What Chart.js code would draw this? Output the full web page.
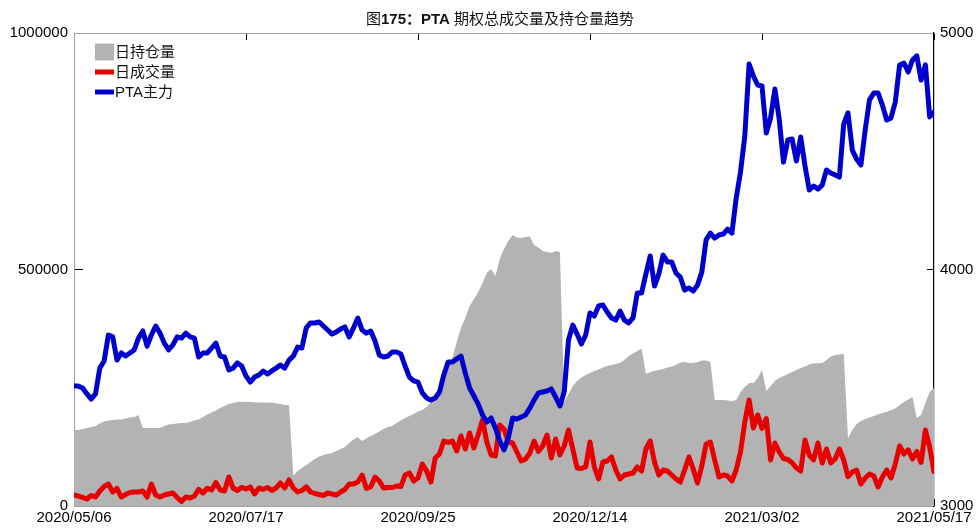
<!DOCTYPE html>
<html><head><meta charset="utf-8">
<script src="https://cdn.jsdelivr.net/npm/chart.js@4.4.0/dist/chart.umd.min.js"></script>
<style>html,body{margin:0;padding:0;background:#fff;}canvas{display:block;}</style>
</head><body>
<canvas id="c" width="976" height="528"></canvas>
<script>
const titleParts = [["图", false], ["175：PTA", true], [" 期权总成交量及持仓量趋势", false]];
const seriesNames = ["日持仓量", "日成交量", "PTA主力"];
const tickLabels = ["2020/05/06", "2020/07/17", "2020/09/25", "2020/12/14", "2021/03/02", "2021/05/17"];

const openInterest = [160700,160700,162800,164900,167000,169100,174400,178700,180800,181800,
182900,182900,185000,187100,188200,192400,164900,164900,164900,164900,
164900,169100,172300,173400,174400,175500,175500,177600,180800,182900,
188200,193400,197700,201900,207200,211400,215700,217800,219900,220500,
220300,219900,219300,219000,218800,218600,218400,217100,215700,213500,
213500,63400,74000,80300,86700,93000,99400,104700,107800,109900,
112100,116300,120500,124700,133200,140600,145900,137400,142700,148000,
152200,157500,162800,167000,169100,175500,180800,186100,190300,194500,
199800,203000,209300,219900,232600,251600,270600,289700,312900,346700,
376300,397500,422800,437600,452400,471500,492600,501100,486300,522200,
543400,560300,573000,567700,566600,568700,569800,551800,546500,539100,
537000,534900,539100,537000,219900,236800,253700,264300,271700,277000,
281200,285400,288600,292800,296000,298100,300200,303000,308700,317100,
322400,327700,333000,279100,283300,285400,287500,289700,292800,294900,
298100,303400,304400,302300,302300,304400,307600,307600,304400,224100,
224100,224100,223100,222000,224100,241000,251600,260100,260100,270600,
287500,243100,253700,264300,270600,274900,279100,283300,287500,291800,
294900,299200,301700,301700,302300,308700,316100,319200,320300,321400,
143800,160700,173400,179700,183900,187100,190300,193500,196600,198700,
203000,206100,213500,219900,225200,230500,186100,192400,217800,241000,
249500];

const volume = [23300,21100,18000,14800,22200,19000,31700,41200,46500,29600,
37000,19000,24300,28500,29600,29600,31700,19000,46500,23300,
19000,23300,25400,27500,18000,9500,19000,16900,21100,34900,
27500,37400,33800,49700,33800,31700,61300,38100,32800,39500,
35900,40200,25400,38100,35300,39100,32800,38100,48600,38100,
55000,38100,29600,32800,40200,29600,26400,24300,22200,27500,
25400,23300,29600,34900,46500,46500,50700,65500,37000,40200,
61300,52900,38100,39100,39100,42300,41200,65500,69800,52900,
59200,88800,74000,50700,101500,109900,137400,134300,137400,116300,
148000,120500,154300,122600,151200,181800,135300,107800,105700,171300,
162800,135300,133200,114200,95100,99400,112100,137400,115200,126900,
150100,101500,141700,107800,126900,160700,120500,80300,79300,82500,
135300,82500,57100,93000,95100,103600,76100,57100,65500,67700,
69800,82500,74000,120500,137400,93000,65500,76100,74000,65500,
57100,50700,76100,103600,78200,48600,84600,131100,135300,97300,
61300,65500,63400,52900,76100,114200,177600,224100,164900,192400,
163900,185000,97300,133200,114200,100400,98300,91500,80300,74000,
139500,107800,97300,133200,90900,120500,90900,99400,120500,97300,
62000,71900,76100,46500,59200,67700,63400,40200,61300,76100,
59200,88800,126900,109900,118400,99400,115200,92000,160700,124700,
72500];

const ptaPrice = [3507,3507,3499,3474,3452,3474,3583,3613,3723,3715,
3617,3647,3634,3647,3660,3710,3740,3676,3723,3761,
3731,3689,3660,3681,3715,3710,3731,3715,3710,3630,
3647,3647,3668,3689,3634,3630,3575,3583,3605,3592,
3550,3524,3545,3554,3571,3558,3571,3583,3596,3583,
3617,3634,3672,3668,3753,3774,3774,3778,3761,3744,
3727,3736,3748,3757,3715,3753,3795,3744,3731,3740,
3698,3638,3630,3634,3651,3651,3643,3592,3545,3529,
3524,3478,3457,3448,3457,3482,3554,3609,3609,3622,
3634,3562,3499,3465,3431,3385,3355,3372,3330,3275,
3237,3288,3372,3368,3376,3385,3414,3448,3478,3482,
3486,3495,3461,3423,3482,3702,3765,3727,3685,3723,
3816,3803,3846,3850,3820,3795,3786,3824,3786,3774,
3795,3901,3901,3981,4057,3930,3981,4061,4032,4032,
3985,3968,3913,3922,3909,3934,3989,4125,4154,4133,
4146,4150,4171,4154,4302,4412,4564,4869,4818,4780,
4776,4577,4641,4763,4636,4454,4548,4552,4459,4560,
4438,4336,4353,4340,4357,4421,4408,4400,4391,4615,
4662,4505,4467,4442,4590,4717,4746,4746,4695,4632,
4641,4708,4865,4873,4835,4886,4903,4801,4865,4645,
4666];

const pointIndex = openInterest.map((_, i) => i);
const lastIndex = pointIndex.length - 1;
const tickStep = lastIndex / (tickLabels.length - 1);

const latinCjk = '"Liberation Sans", Arial, "Noto Sans CJK SC", sans-serif';
const axisFont = { size: 15, family: latinCjk };
const plainNumber = v => String(v);

const titleLegendPlugin = {
  id: 'titleLegend',
  afterDraw(chart) {
    const ctx = chart.ctx, ca = chart.chartArea;
    ctx.save();
    const fontOf = b => (b ? 'bold ' : '') + '15px ' + latinCjk;
    let total = 0;
    const widths = titleParts.map(([t, b]) => { ctx.font = fontOf(b); const w = ctx.measureText(t).width; total += w; return w; });
    let x = (ca.left + ca.right) / 2 - total / 2 - 4;
    ctx.textBaseline = 'middle';
    ctx.textAlign = 'left';
    ctx.fillStyle = '#111';
    titleParts.forEach(([t, b], i) => { ctx.font = fontOf(b); ctx.fillText(t, x, 20); x += widths[i]; });
    const x0 = ca.left + 21;
    let y = ca.top + 19;
    ctx.font = '15px ' + latinCjk;
    chart.data.datasets.forEach(ds => {
      if (ds.fill) {
        ctx.fillStyle = ds.backgroundColor;
        ctx.fillRect(x0, y - 8.5, 19, 17);
      } else {
        ctx.strokeStyle = ds.borderColor;
        ctx.lineWidth = ds.borderWidth;
        ctx.lineCap = 'butt';
        ctx.beginPath(); ctx.moveTo(x0, y); ctx.lineTo(x0 + 19, y); ctx.stroke();
      }
      ctx.fillStyle = '#111';
      ctx.fillText(ds.label, x0 + 20, y + 1);
      y += 20;
    });
    ctx.restore();
  }
};

const noPad = s => { s.paddingLeft = 0; s.paddingRight = 0; s.paddingTop = 0; s.paddingBottom = 0; };

new Chart(document.getElementById('c'), {
  type: 'line',
  data: {
    labels: pointIndex,
    datasets: [
      { label: seriesNames[0], data: openInterest, xAxisID: 'x', yAxisID: 'y', fill: 'origin',
        backgroundColor: '#b3b3b3', borderColor: '#b3b3b3', borderWidth: 0, pointRadius: 0, tension: 0, order: 3 },
      { label: seriesNames[1], data: volume, xAxisID: 'x', yAxisID: 'y', fill: false,
        backgroundColor: '#e60000', borderColor: '#e60000', borderWidth: 5, pointRadius: 0, tension: 0,
        borderJoinStyle: 'round', borderCapStyle: 'round', order: 2 },
      { label: seriesNames[2], data: ptaPrice, xAxisID: 'x', yAxisID: 'y1', fill: false,
        backgroundColor: '#0000cc', borderColor: '#0000cc', borderWidth: 5, pointRadius: 0, tension: 0,
        borderJoinStyle: 'round', borderCapStyle: 'round', order: 1 }
    ]
  },
  options: {
    responsive: false,
    animation: false,
    devicePixelRatio: 1,
    layout: { padding: 0 },
    plugins: { legend: { display: false }, tooltip: { enabled: false }, title: { display: false } },
    scales: {
      x: {
        type: 'linear', position: 'bottom', min: 0, max: lastIndex,
        ticks: { stepSize: tickStep, autoSkip: false, maxRotation: 0, padding: 10, color: '#000', font: axisFont,
          callback: v => tickLabels[Math.round(v / tickStep)] ?? '' },
        grid: { drawOnChartArea: false, drawTicks: true, tickLength: -7, color: '#000' },
        border: { color: '#a0a0a0', width: 1 },
        afterFit: s => { s.height = 22; noPad(s); }
      },
      xTop: {
        type: 'linear', position: 'top', min: 0, max: lastIndex,
        ticks: { stepSize: tickStep, display: false },
        grid: { drawOnChartArea: false, drawTicks: true, tickLength: -7, color: '#000' },
        border: { color: '#a0a0a0', width: 1 },
        afterFit: s => { s.height = 33; noPad(s); }
      },
      y: {
        type: 'linear', position: 'left', min: 0, max: 1000000,
        ticks: { stepSize: 500000, padding: 15, color: '#000', font: axisFont, callback: plainNumber },
        grid: { drawOnChartArea: false, drawTicks: true, tickLength: -9, color: '#000' },
        border: { color: '#a0a0a0', width: 1 },
        afterFit: s => { s.width = 74; noPad(s); }
      },
      y1: {
        type: 'linear', position: 'right', min: 3000, max: 5000,
        ticks: { stepSize: 1000, padding: 13, color: '#000', font: axisFont, callback: plainNumber },
        grid: { drawOnChartArea: false, drawTicks: true, tickLength: -7, color: '#000' },
        border: { color: '#000', width: 1.2 },
        afterFit: s => { s.width = 42; noPad(s); }
      }
    }
  },
  plugins: [titleLegendPlugin]
});
</script>
</body></html>
